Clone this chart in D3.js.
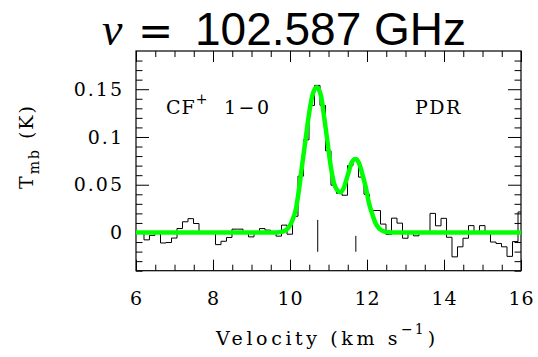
<!DOCTYPE html>
<html>
<head>
<meta charset="utf-8">
<script src="https://cdn.jsdelivr.net/npm/d3@7"></script>
<style>
  html, body { margin: 0; padding: 0; background: #fff; }
  svg { display: block; }
</style>
</head>
<body>
<div id="chart"></div>
<script>
// ---------------- DATA ----------------
const titleSymbol = "\u03bd";
const titleValue = "102.587 GHz";
const xTickValues = [6, 8, 10, 12, 14, 16];
const xTickLabels = ["6", "8", "10", "12", "14", "16"];
const yTickValues = [0, 0.05, 0.1, 0.15];
const yTickLabels = ["0", "0.05", "0.1", "0.15"];
const xDomain = [6, 16];
const yDomain = [-0.04, 0.19];
const channelWidth = 0.142857; // km/s

// channel centre velocities (km/s)
const channelVelocity = [
  5.994, 6.136, 6.279, 6.422, 6.565, 6.708, 6.851, 6.994, 7.136, 7.279,
  7.422, 7.565, 7.708, 7.851, 7.994, 8.136, 8.279, 8.422, 8.565, 8.708,
  8.851, 8.994, 9.136, 9.279, 9.422, 9.565, 9.708, 9.851, 9.994, 10.136,
  10.279, 10.422, 10.565, 10.708, 10.851, 10.994, 11.136, 11.279, 11.422, 11.565,
  11.708, 11.851, 11.994, 12.136, 12.279, 12.422, 12.565, 12.708, 12.851, 12.994,
  13.136, 13.279, 13.422, 13.565, 13.708, 13.851, 13.994, 14.136, 14.279, 14.422,
  14.565, 14.708, 14.851, 14.994, 15.136, 15.279, 15.422, 15.565, 15.708, 15.851,
  15.994
];
// observed spectrum T_mb (K)
const channelTmb = [
  0.0, 0.001, -0.0077, -0.003, 0.0005, -0.011, -0.0105, -0.0058, 0.0042, 0.0112,
  0.0145, 0.0094, 0.001, -0.0005, 0.0, -0.0127, -0.0092, -0.0052, 0.0035, 0.0035,
  0.0, -0.0046, 0.0005, 0.0041, 0.0025, 0.0, -0.0038, 0.0077, -0.0018, 0.017,
  0.059, 0.097, 0.133, 0.154, 0.133, 0.0855, 0.0495, 0.041, 0.039, 0.070,
  0.077, 0.058, 0.040, 0.023, 0.023, 0.0088, -0.002, 0.015, 0.0098, -0.006,
  0.0005, -0.0035, 0.0, 0.0005, 0.020, 0.007, 0.0148, -0.005, -0.0255, -0.015,
  -0.006, 0.0072, 0.0005, 0.0072, 0.0, -0.010, -0.0115, -0.015, -0.025, -0.0095,
  0.0215
];
// fitted profile
const fitVelocity = [
  6.0, 9.6, 9.70, 9.85, 9.95, 10.02, 10.10, 10.15, 10.23, 10.32,
  10.41, 10.49, 10.58, 10.69, 10.80, 10.88, 10.97, 11.06, 11.14, 11.23,
  11.31, 11.40, 11.50, 11.61, 11.70, 11.79, 11.88, 11.97, 12.05, 12.14,
  12.22, 12.30, 12.40, 12.55, 12.8, 16.0
];
const fitTmb = [
  0, 0, 0.0003, 0.0015, 0.0045, 0.009, 0.017, 0.024, 0.044, 0.072,
  0.099, 0.123, 0.143, 0.152, 0.144, 0.123, 0.096, 0.069, 0.052, 0.044,
  0.042, 0.047, 0.060, 0.074, 0.077, 0.073, 0.061, 0.047, 0.031, 0.019,
  0.010, 0.005, 0.0018, 0.0003, 0, 0
];
// component position markers
const markerVelocity = [10.72, 11.71];
const markerBottom = [-0.0202, -0.0202];
const markerTop = [0.0132, -0.0035];

// ---------------- LAYOUT ----------------
const W = 538, H = 357;
const plot = { left: 136, right: 521, top: 51, bottom: 270.7 };
const SERIF = "DejaVu Serif";

const svg = d3.select("#chart").append("svg")
  .attr("width", W).attr("height", H);

const x = d3.scaleLinear().domain(xDomain).range([plot.left, plot.right]);
const y = d3.scaleLinear().domain(yDomain).range([plot.bottom, plot.top]);

svg.append("defs").append("clipPath").attr("id", "clip")
  .append("rect")
  .attr("x", plot.left).attr("y", plot.top)
  .attr("width", plot.right - plot.left).attr("height", plot.bottom - plot.top);

// minor ticks
const xMinor = d3.range(6, 16.001, 0.5).filter(v => Math.abs(v / 2 - Math.round(v / 2)) > 1e-6);
const yMinor = d3.range(-4, 19).map(i => i / 100).filter(v => Math.abs(v * 20 - Math.round(v * 20)) > 1e-6);

function styleAxis(g) {
  g.select(".domain").remove();
  g.selectAll(".tick line").attr("stroke", "#000").attr("stroke-width", 1);
}

const majorX = 11, minorX = 6, majorY = 13, minorY = 6.5;

// bottom
svg.append("g").attr("transform", `translate(0,${plot.bottom})`)
  .call(d3.axisBottom(x).tickValues(xTickValues).tickSize(-majorX).tickPadding(21)
    .tickFormat((d, i) => xTickLabels[i]))
  .call(styleAxis)
  .call(g => g.selectAll(".tick text")
    .attr("font-size", 19).attr("fill", "#000")
    .attr("font-family", SERIF).style("letter-spacing", "1px"));
svg.append("g").attr("transform", `translate(0,${plot.bottom})`)
  .call(d3.axisBottom(x).tickValues(xMinor).tickSize(-minorX).tickFormat(""))
  .call(styleAxis);
// top
svg.append("g").attr("transform", `translate(0,${plot.top})`)
  .call(d3.axisTop(x).tickValues(xTickValues).tickSize(-majorX).tickFormat(""))
  .call(styleAxis);
svg.append("g").attr("transform", `translate(0,${plot.top})`)
  .call(d3.axisTop(x).tickValues(xMinor).tickSize(-minorX).tickFormat(""))
  .call(styleAxis);
// left
svg.append("g").attr("transform", `translate(${plot.left},0)`)
  .call(d3.axisLeft(y).tickValues(yTickValues).tickSize(-majorY).tickPadding(12)
    .tickFormat((d, i) => yTickLabels[i]))
  .call(styleAxis)
  .call(g => g.selectAll(".tick text")
    .attr("font-size", 19).attr("fill", "#000")
    .attr("font-family", SERIF).style("letter-spacing", "2px"));
svg.append("g").attr("transform", `translate(${plot.left},0)`)
  .call(d3.axisLeft(y).tickValues(yMinor).tickSize(-minorY).tickFormat(""))
  .call(styleAxis);
// right
svg.append("g").attr("transform", `translate(${plot.right},0)`)
  .call(d3.axisRight(y).tickValues(yTickValues).tickSize(-majorY).tickFormat(""))
  .call(styleAxis);
svg.append("g").attr("transform", `translate(${plot.right},0)`)
  .call(d3.axisRight(y).tickValues(yMinor).tickSize(-minorY).tickFormat(""))
  .call(styleAxis);

// frame
svg.append("rect")
  .attr("x", plot.left).attr("y", plot.top)
  .attr("width", plot.right - plot.left).attr("height", plot.bottom - plot.top)
  .attr("fill", "none").attr("stroke", "#000").attr("stroke-width", 1.2);

const layer = svg.append("g").attr("clip-path", "url(#clip)");

// histogram
const stepPts = [];
channelVelocity.forEach((v, i) => {
  stepPts.push([v - channelWidth / 2, channelTmb[i]]);
  stepPts.push([v + channelWidth / 2, channelTmb[i]]);
});
layer.append("path")
  .datum(stepPts)
  .attr("fill", "none").attr("stroke", "#000").attr("stroke-width", 1)
  .attr("d", d3.line().x(d => x(d[0])).y(d => y(d[1])));

// fit
const fitPts = fitVelocity.map((v, i) => [v, fitTmb[i]]);
layer.append("path")
  .datum(fitPts)
  .attr("fill", "none").attr("stroke", "#00ff00").attr("stroke-width", 4.5)
  .attr("stroke-linejoin", "round")
  .attr("d", d3.line().x(d => x(d[0])).y(d => y(d[1])).curve(d3.curveMonotoneX));

// markers
layer.selectAll("line.marker").data(markerVelocity).enter().append("line")
  .attr("class", "marker")
  .attr("x1", d => x(d)).attr("x2", d => x(d))
  .attr("y1", (d, i) => y(markerBottom[i])).attr("y2", (d, i) => y(markerTop[i]))
  .attr("stroke", "#000").attr("stroke-width", 1);

// labels inside plot
const lab1 = svg.append("text").attr("x", 166).attr("y", 114)
  .attr("font-family", SERIF).attr("font-size", 19).attr("fill", "#000")
  .style("letter-spacing", "1px");
lab1.append("tspan").text("CF");
lab1.append("tspan").attr("dy", -10).attr("font-size", 14).text("+");
lab1.append("tspan").attr("x", 224).attr("dy", 10).style("letter-spacing", "2.5px").text("1\u22120");

svg.append("text").attr("x", 415).attr("y", 114)
  .attr("font-family", SERIF).attr("font-size", 19).attr("fill", "#000")
  .style("letter-spacing", "1.5px")
  .text("PDR");

// x label
const xl = svg.append("text").attr("x", 216).attr("y", 345)
  .attr("font-family", SERIF).attr("font-size", 19).attr("fill", "#000")
  .style("letter-spacing", "3.6px");
xl.append("tspan").text("Velocity (km s");
xl.append("tspan").attr("dy", -11).attr("font-size", 14).style("letter-spacing", "2px").text("\u22121");
xl.append("tspan").attr("dy", 11).attr("dx", 2).text(")");

// y label
const yl = svg.append("text")
  .attr("transform", "translate(33,189) rotate(-90)")
  .attr("font-family", SERIF).attr("font-size", 19).attr("fill", "#000")
  .style("letter-spacing", "2px");
yl.append("tspan").text("T");
yl.append("tspan").attr("dy", 6).attr("font-size", 14).text("mb");
yl.append("tspan").attr("dy", -6).attr("dx", 9).text("(K)");

// title
const t = svg.append("text").attr("y", 45).attr("font-size", 46).attr("fill", "#000");
t.append("tspan").attr("x", 102).attr("font-family", "Liberation Serif").attr("font-style", "italic").text(titleSymbol);
t.append("tspan").attr("x", 138).attr("font-family", "DejaVu Sans").attr("font-size", 42).text("=");
t.append("tspan").attr("x", 195).attr("font-family", "Liberation Sans").text(titleValue);
</script>
</body>
</html>
